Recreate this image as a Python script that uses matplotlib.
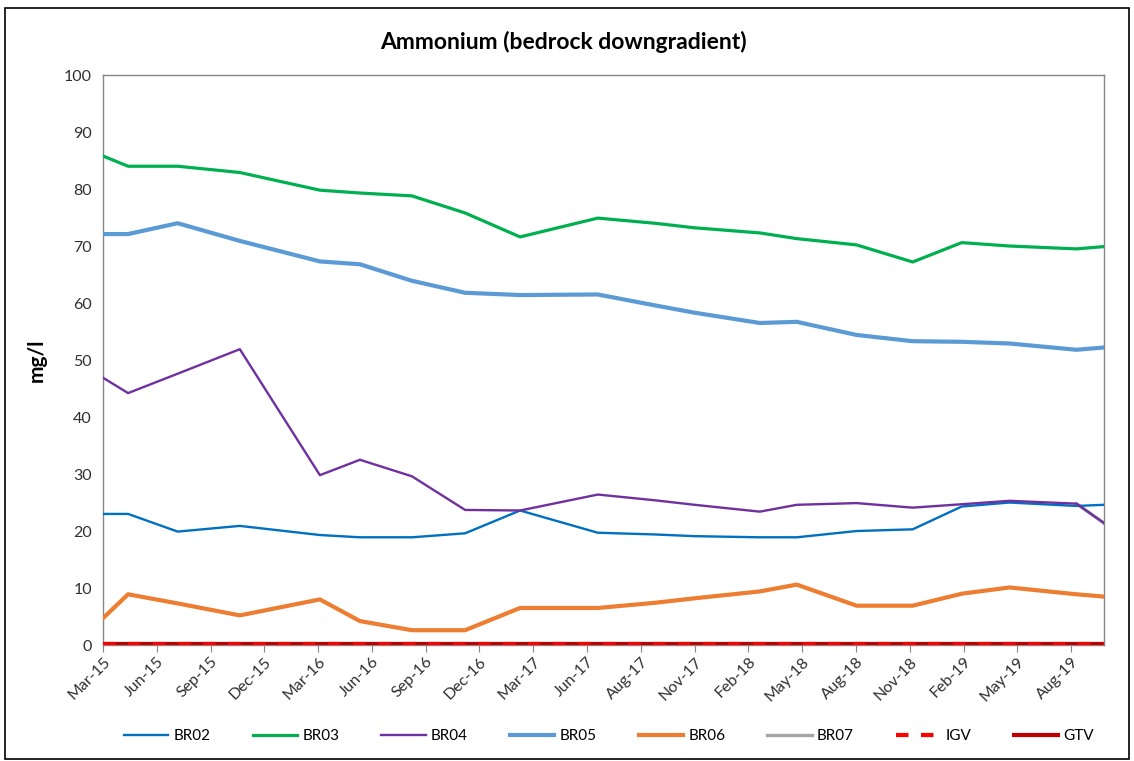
import datetime as dt
import numpy as np
import matplotlib
matplotlib.use("Agg")
import matplotlib.pyplot as plt
from matplotlib.patches import Rectangle

# ---------------- data ----------------
sample_dates = ["2015-03-14", "2015-04-25", "2015-07-17", "2015-10-29", "2016-03-11",
                "2016-05-17", "2016-08-12", "2016-11-09", "2017-02-09", "2017-06-19",
                "2017-09-22", "2017-11-28", "2018-03-17", "2018-05-18", "2018-08-26",
                "2018-11-28", "2019-02-18", "2019-05-09", "2019-08-29", "2019-10-14"]

br02 = [23.0, 23.0, 19.9, 20.9, 19.3, 18.9, 18.9, 19.6, 23.6, 19.7,
        19.4, 19.1, 18.9, 18.9, 20.0, 20.3, 24.3, 25.0, 24.4, 24.6]
br03 = [85.8, 84.0, 84.0, 82.9, 79.8, 79.3, 78.8, 75.8, 71.6, 74.9,
        74.0, 73.2, 72.3, 71.3, 70.2, 67.2, 70.6, 70.0, 69.5, 69.9]
br04 = [46.9, 44.2, 47.6, 51.9, 29.8, 32.5, 29.6, 23.7, 23.6, 26.4,
        25.4, 24.6, 23.4, 24.6, 24.9, 24.1, 24.7, 25.3, 24.8, 21.4]
br05 = [72.1, 72.1, 74.0, 70.9, 67.3, 66.8, 63.9, 61.8, 61.4, 61.5,
        59.6, 58.3, 56.5, 56.7, 54.4, 53.3, 53.2, 52.9, 51.8, 52.2]
br06 = [4.7, 8.9, 7.3, 5.2, 8.0, 4.2, 2.6, 2.6, 6.5, 6.5,
        7.4, 8.2, 9.4, 10.6, 6.9, 6.9, 9.0, 10.1, 8.9, 8.5]
br07 = [np.nan] * 18 + [24.8, 21.4]
igv = [0.2] * 20
gtv = [0.15] * 20

title = "Ammonium (bedrock downgradient)"
ylabel = "mg/l"
tick_start = "2015-03-14"
tick_step_days = 90
n_ticks = 19

# ---------------- plot ----------------
dates = [dt.datetime.strptime(d, "%Y-%m-%d") for d in sample_dates]
plt.rcParams['font.family'] = ['Lato', 'DejaVu Sans']

fig = plt.figure(figsize=(11.34, 7.61), dpi=100)
ax = fig.add_axes([0.0908, 0.1524, 0.9735 - 0.0908, 0.9014 - 0.1524])

series = [
    ("BR02", br02, "#0070c0", 1.7, 3),
    ("BR03", br03, "#00b050", 2.3, 3),
    ("BR04", br04, "#7030a0", 1.7, 3),
    ("BR05", br05, "#5b9bd5", 3.0, 3),
    ("BR06", br06, "#ed7d31", 3.0, 3),
    ("BR07", br07, "#a5a5a5", 2.4, 2),
]
handles = []
for name, vals, col, lw, z in series:
    h, = ax.plot(dates, vals, color=col, lw=lw, label=name, zorder=z,
                 solid_joinstyle="round")
    handles.append(h)
h_gtv, = ax.plot(dates, gtv, color="#c00000", lw=3.0, label="GTV", zorder=4)
h_igv, = ax.plot(dates, igv, color="#ff0000", lw=3.0, ls=(0, (3, 3)), label="IGV", zorder=5)
handles += [h_igv, h_gtv]

ax.set_xlim(dates[0], dates[-1])
ax.set_ylim(0, 100)
ax.set_yticks(np.arange(0, 101, 10))
ax.tick_params(axis="y", length=0, labelsize=11.5, pad=8, colors="#303030")
t0 = dt.datetime.strptime(tick_start, "%Y-%m-%d")
ticks = [t0 + dt.timedelta(days=tick_step_days * k) for k in range(n_ticks)]
ax.set_xticks(ticks)
ax.set_xticklabels([t.strftime("%b-%y") for t in ticks])
ax.tick_params(axis="x", length=5, color="#868686", labelsize=11.5, labelcolor="#303030", pad=2)
for lab in ax.get_xticklabels():
    lab.set_rotation(45)
    lab.set_ha("right")
    lab.set_va("top")
    lab.set_rotation_mode("anchor")
for s in ax.spines.values():
    s.set_color("#868686")
    s.set_linewidth(1.0)

ax.set_ylabel(ylabel, fontsize=15, fontweight="bold", labelpad=12)
fig.text(0.497, 0.945, title, ha="center", va="center", fontsize=16.5, fontweight="bold")

fig.legend(handles=handles, labels=[h.get_label() for h in handles], loc="center",
           bbox_to_anchor=(0.537, 0.033), ncol=8, frameon=False, fontsize=11,
           handlelength=2.9, columnspacing=2.75, handletextpad=0.35)

fig.patches.append(Rectangle((0.004, 0.003), 0.992, 0.986, transform=fig.transFigure,
                             fill=False, edgecolor="#000000", lw=1.2))

fig.savefig("out.png", dpi=100, facecolor="white")
